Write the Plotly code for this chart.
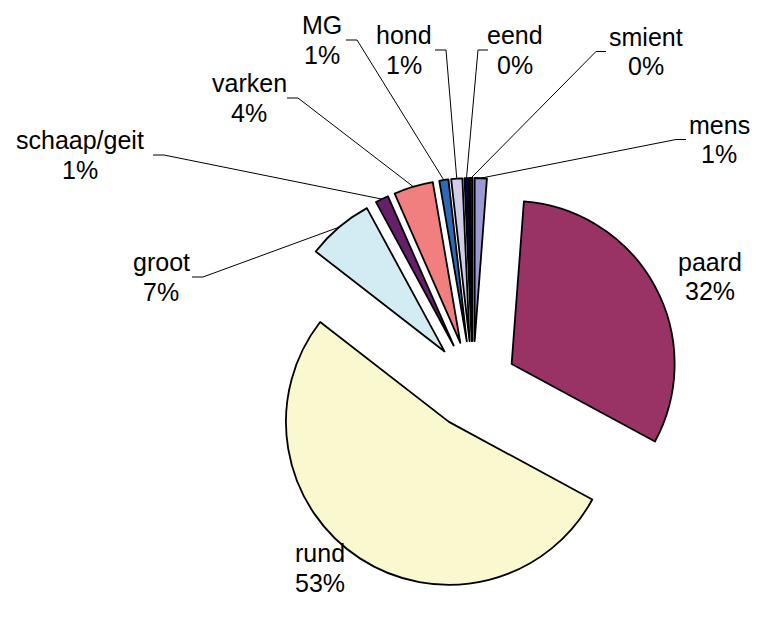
import math
import plotly.graph_objects as go

# Slice data (clockwise from 12 o'clock)
labels = ["mens", "paard", "rund", "groot", "schaap/geit", "varken", "MG", "hond", "eend", "smient"]
values = [1.2, 31.7, 52.6, 6.6, 1.3, 3.9, 0.9, 1.1, 0.4, 0.3]
colors = ["#9C9AD2", "#993366", "#FAF8CF", "#D3ECF4", "#66206A",
          "#F27F80", "#2D6AB6", "#CFCDE9", "#000050", "#1A1A1A"]

# Figure / pie geometry in pixels
W, H = 763, 628
CX, CY = 473.0, 385.0
RADIUS = 163.0
PULL = 0.27
BOX = 2 * RADIUS * (1 + PULL)

# Label placement: x centre, y of name line, y of percent line (pixels)
label_pos = {
    "mens": (719, 125, 154), "paard": (710, 262, 291), "rund": (320, 553, 583),
    "groot": (161, 262, 292), "schaap/geit": (80, 140, 170), "varken": (249, 83, 113),
    "MG": (322, 25, 55), "hond": (404, 35, 65), "eend": (515, 35, 65),
    "smient": (646, 37, 66),
}
# Leader stubs next to the labels: (start x, end x) in pixels
leader_stub = {
    "mens": (686, 676), "smient": (606, 596), "eend": (488, 478),
    "hond": (435, 446), "MG": (346, 357), "varken": (287, 298),
    "schaap/geit": (153, 164), "groot": (192, 203),
}
FONT = dict(family="Liberation Sans, Arial, sans-serif", size=25, color="black")


def px(x):
    return x / W


def py(y):
    return 1 - y / H


fig = go.Figure(go.Pie(
    labels=labels,
    values=values,
    sort=False,
    direction="clockwise",
    rotation=0,
    pull=[PULL] * len(values),
    marker=dict(colors=colors, line=dict(color="black", width=1.8)),
    textinfo="none",
    hoverinfo="label+percent",
    showlegend=False,
    domain=dict(x=[px(CX - BOX / 2), px(CX + BOX / 2)],
                y=[py(CY + BOX / 2), py(CY - BOX / 2)]),
))

total = sum(values)
annotations = []
shapes = []
cum = 0.0
for name, v in zip(labels, values):
    pct = 100 * v / total
    mid = (cum + v / 2) / total * 2 * math.pi
    cum += v
    lx, y1, y2 = label_pos[name]
    for txt, yy in ((name, y1), (f"{round(pct):d}%", y2)):
        annotations.append(dict(
            x=px(lx), y=py(yy), xref="paper", yref="paper",
            text=txt, showarrow=False,
            xanchor="center", yanchor="middle", font=FONT,
        ))
    if name in leader_stub:
        # outer edge of the exploded slice at its mid angle
        r_out = RADIUS * (1 + PULL)
        ex = CX + r_out * math.sin(mid)
        ey = CY - r_out * math.cos(mid)
        ly = (y1 + y2) / 2
        x0, x1 = leader_stub[name]
        line = dict(color="black", width=1)
        shapes.append(dict(type="line", xref="paper", yref="paper",
                           x0=px(x0), y0=py(ly), x1=px(x1), y1=py(ly), line=line))
        shapes.append(dict(type="line", xref="paper", yref="paper",
                           x0=px(x1), y0=py(ly), x1=px(ex), y1=py(ey), line=line))

fig.update_layout(
    width=W, height=H,
    margin=dict(l=0, r=0, t=0, b=0),
    paper_bgcolor="white",
    plot_bgcolor="white",
    annotations=annotations,
    shapes=shapes,
)

fig.write_html("out.html")
